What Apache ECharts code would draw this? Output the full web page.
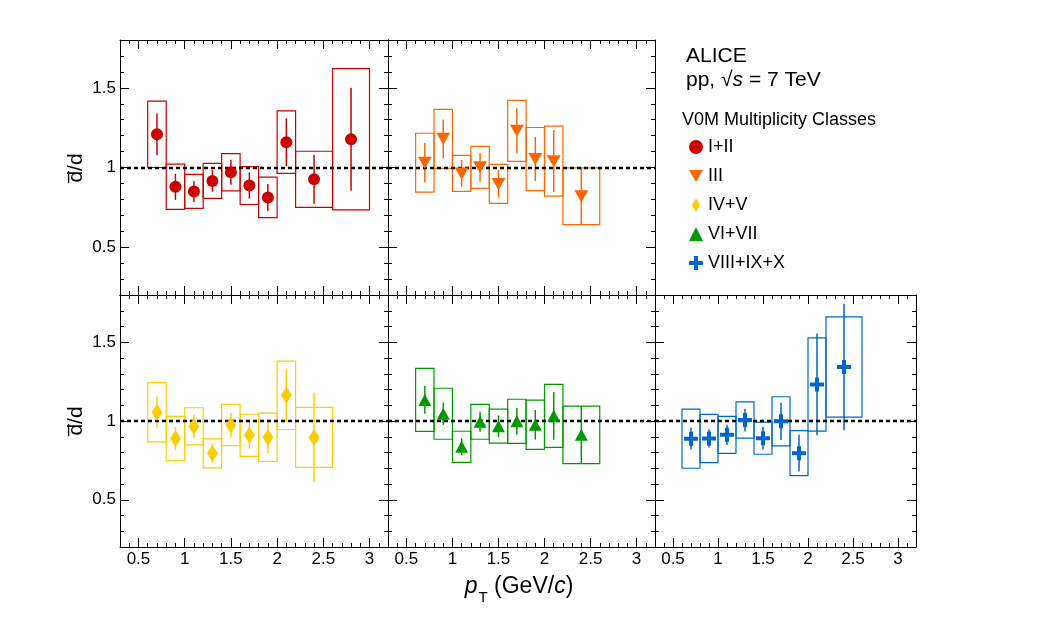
<!DOCTYPE html>
<html>
<head>
<meta charset="utf-8">
<script src="https://cdn.jsdelivr.net/npm/echarts@6/dist/echarts.min.js"></script>
<style>
  html, body { margin: 0; padding: 0; background: #fff; }
  #main { width: 1046px; height: 622px; }
</style>
</head>
<body>
<div id="main"></div>
<script>
// axis ranges and tick labels
const xMin = 0.3, xMax = 3.2;
const yMin = 0.2, yMax = 1.8;
const xMajorTicks = [0.5, 1, 1.5, 2, 2.5, 3];
const yMajorTicks = [0.5, 1, 1.5];

// pT bins (GeV/c)
const binEdges = [0.6, 0.8, 1.0, 1.2, 1.4, 1.6, 1.8, 2.0, 2.2, 2.6, 3.0];

// dbar/d ratio per V0M class: value, stat. error, syst. error
const valI_II = [1.208, 0.879, 0.850, 0.916, 0.970, 0.887, 0.812, 1.159, 0.926, 1.177];
const statI_II = [0.131, 0.082, 0.066, 0.068, 0.079, 0.082, 0.085, 0.150, 0.153, 0.323];
const sysI_II = [0.208, 0.142, 0.107, 0.110, 0.117, 0.119, 0.127, 0.196, 0.176, 0.443];

const valIII = [1.030, 1.180, 0.963, 1.001, 0.897, 1.230, 1.053, 1.040, 0.820];
const statIII = [0.124, 0.121, 0.084, 0.090, 0.087, 0.141, 0.138, 0.195, 0.178];
const sysIII = [0.185, 0.185, 0.113, 0.132, 0.122, 0.191, 0.198, 0.220, 0.178];

const valIV_V = [1.056, 0.889, 0.966, 0.795, 0.975, 0.909, 0.897, 1.163, 0.896];
const statIV_V = [0.099, 0.072, 0.073, 0.059, 0.077, 0.085, 0.100, 0.168, 0.283];
const sysIV_V = [0.188, 0.140, 0.118, 0.092, 0.131, 0.134, 0.153, 0.217, 0.191];

const valVI_VII = [1.134, 1.046, 0.836, 0.995, 0.967, 0.998, 0.976, 1.033, 0.912];
const statVI_VII = [0.088, 0.072, 0.054, 0.063, 0.069, 0.085, 0.094, 0.152, 0.182];
const sysVI_VII = [0.200, 0.162, 0.099, 0.111, 0.108, 0.140, 0.156, 0.200, 0.182];

const valVIII_X = [0.888, 0.889, 0.912, 1.006, 0.891, 0.998, 0.796, 1.232, 1.343];
const statVIII_X = [0.069, 0.058, 0.064, 0.072, 0.072, 0.118, 0.117, 0.323, 0.402];
const sysVIII_X = [0.188, 0.153, 0.118, 0.115, 0.102, 0.156, 0.143, 0.296, 0.318];

const font = "'Liberation Sans', Arial, Helvetica, sans-serif";

const downTriangle = "path://M0,0 L14,0 L7,12 Z";
const diamond = "path://M5,0 L10,8.5 L5,17 L0,8.5 Z";
const cross = "path://M5,0 H9 V5 H14 V9 H9 V14 H5 V9 H0 V5 H5 Z";

const panels = [
  { name: "I+II", color: "#cc0000", val: valI_II, stat: statI_II, sys: sysI_II,
    symbol: "circle", symbolSize: 12,
    grid: { left: 120, top: 40, width: 268, height: 255 }, xLabels: false, yLabels: true },
  { name: "III", color: "#ff6600", val: valIII, stat: statIII, sys: sysIII,
    symbol: downTriangle, symbolSize: [14, 12],
    grid: { left: 388, top: 40, width: 267, height: 255 }, xLabels: false, yLabels: false },
  { name: "IV+V", color: "#ffcc00", val: valIV_V, stat: statIV_V, sys: sysIV_V,
    symbol: diamond, symbolSize: [11, 17],
    grid: { left: 120, top: 295, width: 268, height: 252 }, xLabels: true, yLabels: true },
  { name: "VI+VII", color: "#009900", val: valVI_VII, stat: statVI_VII, sys: sysVI_VII,
    symbol: "triangle", symbolSize: [13, 12],
    grid: { left: 388, top: 295, width: 267, height: 252 }, xLabels: true, yLabels: false },
  { name: "VIII+IX+X", color: "#0066cc", val: valVIII_X, stat: statVIII_X, sys: sysVIII_X,
    symbol: cross, symbolSize: 14,
    grid: { left: 655, top: 295, width: 261, height: 252 }, xLabels: true, yLabels: false },
];

// major (with labels) + minor tick axes, on both sides of the frame
function makeAxes(dim, gi, showLabels) {
  const isX = dim === "x";
  const range = isX ? { min: xMin, max: xMax } : { min: yMin, max: yMax };
  const majors = isX ? xMajorTicks : yMajorTicks;
  const sides = isX ? ["bottom", "top"] : ["left", "right"];
  const out = [];
  sides.forEach((pos, si) => {
    out.push({
      gridIndex: gi, type: "value", position: pos, ...range,
      axisLine: { show: true, onZero: false, lineStyle: { color: "#000", width: 1 } },
      axisTick: { show: true, inside: true, length: 9, customValues: majors,
        lineStyle: { color: "#000", width: 1 } },
      axisLabel: { show: showLabels && si === 0, customValues: majors, margin: 4,
        color: "#000", fontSize: 17, fontFamily: font },
      splitLine: { show: false },
    });
    out.push({
      gridIndex: gi, type: "value", position: pos, ...range, interval: 0.1,
      axisLine: { show: false, onZero: false },
      axisTick: { show: true, inside: true, length: 4, lineStyle: { color: "#000", width: 1 } },
      axisLabel: { show: false },
      splitLine: { show: false },
    });
  });
  return out;
}

function boxRender(color) {
  return (params, api) => {
    const p0 = api.coord([api.value(0), api.value(3)]);
    const p1 = api.coord([api.value(1), api.value(2)]);
    return {
      type: "rect",
      shape: { x: p0[0], y: p0[1], width: p1[0] - p0[0], height: p1[1] - p0[1] },
      style: { fill: "none", stroke: color, lineWidth: 1.2 },
    };
  };
}

function errRender(color) {
  return (params, api) => {
    const a = api.coord([api.value(0), api.value(1)]);
    const b = api.coord([api.value(0), api.value(2)]);
    return {
      type: "line",
      shape: { x1: a[0], y1: a[1], x2: b[0], y2: b[1] },
      style: { stroke: color, lineWidth: 1.5 },
    };
  };
}

const grids = [];
let xAxes = [];
let yAxes = [];
const series = [];

panels.forEach((p, gi) => {
  grids.push({ ...p.grid, containLabel: false, outerBoundsMode: "none" });
  xAxes = xAxes.concat(makeAxes("x", gi, p.xLabels));
  yAxes = yAxes.concat(makeAxes("y", gi, p.yLabels));
  const centers = p.val.map((v, i) => (binEdges[i] + binEdges[i + 1]) / 2);

  series.push({
    name: p.name + " syst", type: "custom", xAxisIndex: gi * 4, yAxisIndex: gi * 4, z: 2,
    silent: true, clip: true,
    data: p.val.map((v, i) => [binEdges[i], binEdges[i + 1], v - p.sys[i], v + p.sys[i]]),
    renderItem: boxRender(p.color),
  });
  series.push({
    name: p.name + " stat", type: "custom", xAxisIndex: gi * 4, yAxisIndex: gi * 4, z: 3,
    silent: true, clip: true,
    data: p.val.map((v, i) => [centers[i], v - p.stat[i], v + p.stat[i]]),
    renderItem: errRender(p.color),
  });
  series.push({
    name: p.name, type: "scatter", xAxisIndex: gi * 4, yAxisIndex: gi * 4, z: 6,
    silent: true,
    symbol: p.symbol, symbolSize: p.symbolSize,
    itemStyle: { color: p.color, opacity: 1 },
    data: p.val.map((v, i) => [centers[i], v]),
    markLine: {
      silent: true, symbol: "none", z: 4, animation: false,
      label: { show: false },
      lineStyle: { color: "#000", type: [4, 3], width: 2.4 },
      data: [{ yAxis: 1 }],
    },
  });
});

const graphic = [
  { type: "text", x: 686, y: 56.5,
    style: { text: "ALICE", font: "21px " + font, fill: "#000",
      align: "left", verticalAlign: "middle", textAlign: "left", textVerticalAlign: "middle" } },
  { type: "text", x: 686, y: 80.5,
    style: { text: "{n|pp, √}{i|s}{n| = 7 TeV}", fill: "#000",
      align: "left", verticalAlign: "middle", textAlign: "left", textVerticalAlign: "middle",
      rich: {
        n: { fontSize: 21, fontFamily: font, fill: "#000" },
        i: { fontSize: 21, fontFamily: font, fontStyle: "italic", fill: "#000" },
      } } },
  { type: "text", x: 682, y: 120.5,
    style: { text: "V0M Multiplicity Classes", font: "18px " + font, fill: "#000",
      align: "left", verticalAlign: "middle", textAlign: "left", textVerticalAlign: "middle" } },
  { type: "text", x: 76, y: 168, rotation: Math.PI / 2,
    style: { text: "d\u0305/d", font: "21px " + font, fill: "#000",
      align: "center", verticalAlign: "middle", textAlign: "center", textVerticalAlign: "middle" } },
  { type: "text", x: 76, y: 421, rotation: Math.PI / 2,
    style: { text: "d\u0305/d", font: "21px " + font, fill: "#000",
      align: "center", verticalAlign: "middle", textAlign: "center", textVerticalAlign: "middle" } },
  { type: "text", x: 519, y: 586.5,
    style: { text: "{p|p}{t|T}{n| (GeV/}{c|c}{n|)}", fill: "#000",
      align: "center", verticalAlign: "middle", textAlign: "center", textVerticalAlign: "middle",
      rich: {
        p: { fontSize: 23, fontFamily: font, fontStyle: "italic", lineHeight: 46, fill: "#000" },
        n: { fontSize: 23, fontFamily: font, lineHeight: 46, fill: "#000" },
        c: { fontSize: 23, fontFamily: font, fontStyle: "italic", lineHeight: 46, fill: "#000" },
        t: { fontSize: 15, fontFamily: font, lineHeight: 20, padding: [23, 0, 0, 1], fill: "#000" },
      } } },
];

const option = {
  animation: false,
  backgroundColor: "#fff",
  grid: grids,
  xAxis: xAxes,
  yAxis: yAxes,
  legend: {
    data: panels.map((p) => ({ name: p.name, icon: p.symbol })),
    orient: "vertical", left: 684, top: 133,
    itemWidth: 14, itemHeight: 14, itemGap: 11,
    selectedMode: false,
    textStyle: { fontSize: 18, fontFamily: font, color: "#000" },
  },
  graphic: graphic,
  series: series,
};

const myChart = echarts.init(document.getElementById("main"), null, { renderer: "canvas" });
myChart.setOption(option);
</script>
</body>
</html>
